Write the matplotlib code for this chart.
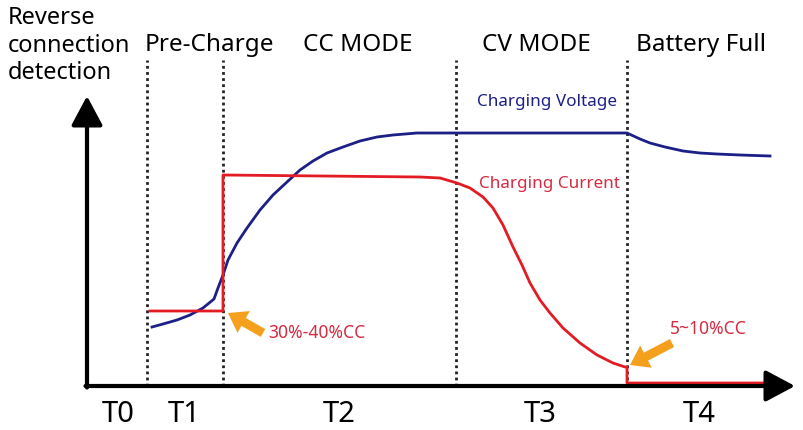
import numpy as np
import matplotlib
matplotlib.use('Agg')
import matplotlib.pyplot as plt

plt.rcParams['font.family'] = ['Noto Sans', 'DejaVu Sans']

# phase boundaries (time units along the x axis)
phase_edges = [60, 136, 369, 540]
phase_names = ['Pre-Charge', 'CC MODE', 'CV MODE', 'Battery Full']
phase_name_x = [122, 271, 449, 614]
t_labels = ['T0', 'T1', 'T2', 'T3', 'T4']
t_label_x = [31, 97, 252, 453, 612]

# charging voltage curve
volt_t = [65, 76, 90, 103, 116, 127, 131, 136, 141, 150, 160, 173, 186, 200,
          213, 226, 240, 256, 273, 290, 306, 330, 540, 553, 563, 578, 596,
          613, 630, 653, 683]
volt_v = [59, 62, 66, 71, 78, 87, 98, 111, 126, 143, 158, 176, 191, 204,
          216, 225, 233, 239, 245, 249, 251, 253, 253, 247, 243, 239, 235,
          233, 232, 231, 230]

# charging current curve
curr_t = [63, 136, 136, 333, 353, 370, 383, 396, 406, 416, 426, 435, 443,
          453, 463, 476, 493, 510, 526, 538, 540, 540, 684]
curr_v = [75, 75, 211, 209, 208, 203, 198, 189, 178, 161, 139, 121, 103,
          86, 73, 58, 43, 31, 23, 19, 19, 3, 3]

x_end = 708
y_end = 290

navy = '#1c1f86'
red = '#e31b23'
label_red = '#d62a40'
orange = '#f4a01c'

fig = plt.figure(figsize=(8.04, 4.30), dpi=100)
ax = fig.add_axes([0, 0, 1, 1])
ax.set_xlim(-87, 717)
ax.set_ylim(-44, 386)
ax.axis('off')

# dotted phase dividers
for x in phase_edges:
    ax.plot([x, x], [0, 326], color='#222222', lw=2.0, ls=(0, (1, 1.2)), zorder=1)

# curves
ax.plot(volt_t, volt_v, color=navy, lw=2.0, zorder=3)
ax.plot(curr_t, curr_v, color=red, lw=2.0, zorder=3)

# axes with arrows
head = '-|>,head_length=0.9,head_width=0.48'
ax.annotate('', xy=(0, y_end), xytext=(0, -1.5),
            arrowprops=dict(arrowstyle=head, mutation_scale=20, lw=3,
                            color='black', shrinkA=0, shrinkB=0), zorder=4)
ax.annotate('', xy=(x_end, 0), xytext=(-1.5, 0),
            arrowprops=dict(arrowstyle=head, mutation_scale=20, lw=3,
                            color='black', shrinkA=0, shrinkB=0), zorder=4)

# orange pointer arrows
ax.arrow(176, 53, -35, 20, width=9, head_width=25, head_length=18,
         length_includes_head=True, color=orange, lw=0, zorder=5)
ax.arrow(585, 43, -42, -22, width=9, head_width=25, head_length=18,
         length_includes_head=True, color=orange, lw=0, zorder=5)

# text
ax.text(-79, 380, 'Reverse\nconnection\ndetection', ha='left', va='top',
        fontsize=17, linespacing=1.2)
for x, name in zip(phase_name_x, phase_names):
    ax.text(x, 341, name, ha='center', va='center', fontsize=17.5)
for x, lab in zip(t_label_x, t_labels):
    ax.text(x, -28, lab, ha='center', va='center', fontsize=21)

ax.text(460, 284, 'Charging Voltage', ha='center', va='center',
        fontsize=12.3, color=navy)
ax.text(463, 202, 'Charging Current', ha='center', va='center',
        fontsize=12.3, color=label_red)
ax.text(181, 53, '30%-40%CC', ha='left', va='center', fontsize=12.6,
        color=label_red)
ax.text(583, 57, '5~10%CC', ha='left', va='center', fontsize=12.6,
        color=label_red)

fig.savefig('out.png', dpi=100)
